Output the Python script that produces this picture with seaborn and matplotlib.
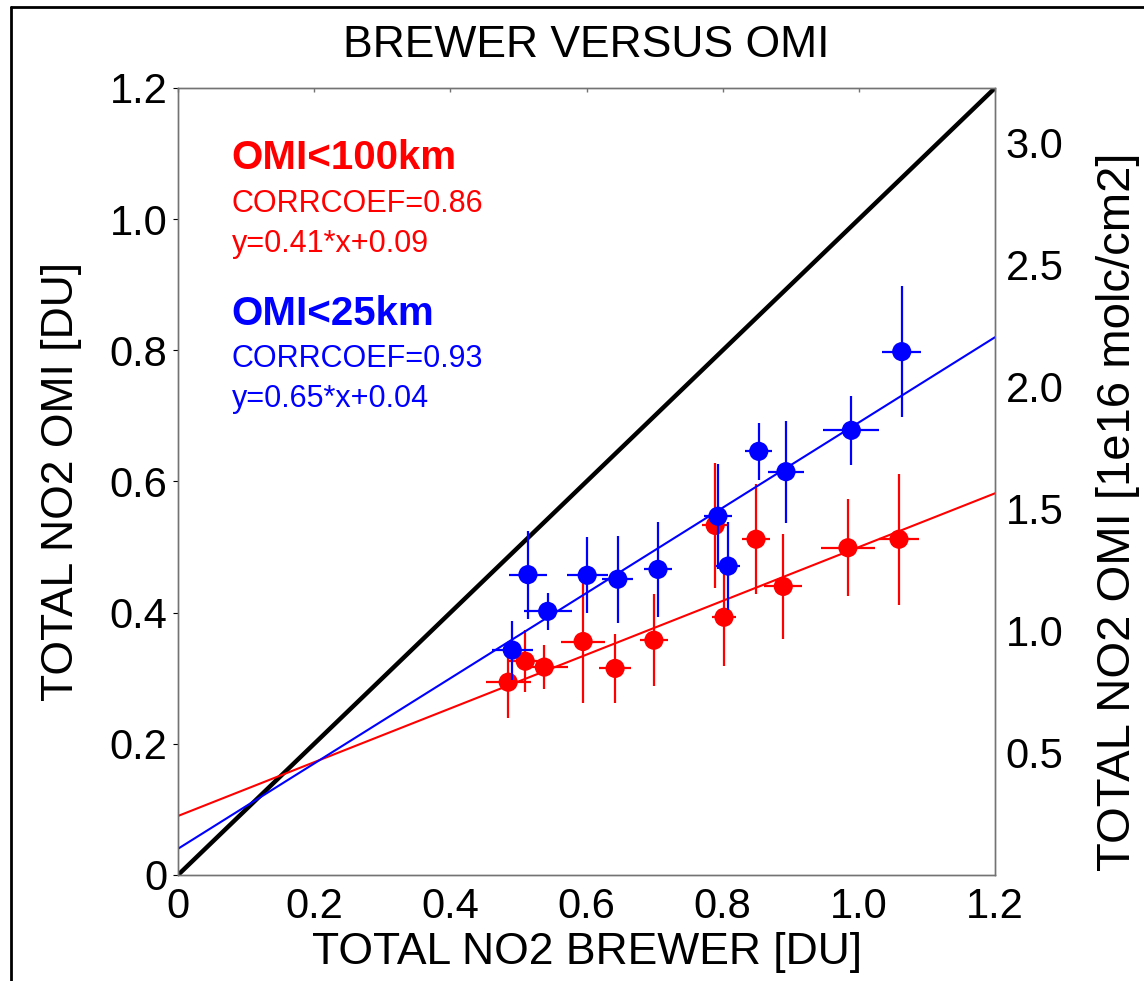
import numpy as np
import pandas as pd
import matplotlib
matplotlib.use("Agg")
import matplotlib.pyplot as plt
from matplotlib.lines import Line2D
import seaborn as sns

# ---------------- data ----------------
red_x = [0.485, 0.510, 0.538, 0.595, 0.642, 0.699, 0.789, 0.802, 0.849, 0.889, 0.984, 1.059]
red_y = [0.294, 0.326, 0.317, 0.356, 0.315, 0.358, 0.533, 0.393, 0.512, 0.440, 0.499, 0.512]
red_xerr = [0.033, 0.027, 0.035, 0.032, 0.023, 0.020, 0.020, 0.018, 0.021, 0.028, 0.040, 0.029]
red_yerr = [0.055, 0.047, 0.034, 0.094, 0.052, 0.070, 0.095, 0.075, 0.084, 0.080, 0.074, 0.100]

blue_x = [0.491, 0.514, 0.543, 0.601, 0.646, 0.705, 0.793, 0.808, 0.853, 0.893, 0.989, 1.063]
blue_y = [0.343, 0.458, 0.402, 0.457, 0.451, 0.466, 0.547, 0.471, 0.646, 0.615, 0.678, 0.798]
blue_xerr = [0.030, 0.028, 0.035, 0.030, 0.023, 0.021, 0.020, 0.018, 0.020, 0.027, 0.041, 0.029]
blue_yerr = [0.045, 0.067, 0.028, 0.058, 0.066, 0.072, 0.080, 0.067, 0.043, 0.078, 0.053, 0.100]

red_fit = [0.41, 0.09]    # slope, intercept
blue_fit = [0.65, 0.04]
ref_slope = 1.0

red_title = "OMI<100km"
red_lines = ["CORRCOEF=0.86", "y=0.41*x+0.09"]
blue_title = "OMI<25km"
blue_lines = ["CORRCOEF=0.93", "y=0.65*x+0.04"]

x_ticks = [0, 0.2, 0.4, 0.6, 0.8, 1.0, 1.2]
x_ticklabels = ["0", "0.2", "0.4", "0.6", "0.8", "1.0", "1.2"]
y_ticks = [0, 0.2, 0.4, 0.6, 0.8, 1.0, 1.2]
y_ticklabels = ["0", "0.2", "0.4", "0.6", "0.8", "1.0", "1.2"]
right_ticks = [0.5, 1.0, 1.5, 2.0, 2.5, 3.0]
right_ticklabels = ["0.5", "1.0", "1.5", "2.0", "2.5", "3.0"]
DU_TO_1E16 = 2.687

# ---------------- style ----------------
sns.set_style("white")
plt.rcParams["font.family"] = ["Liberation Sans", "DejaVu Sans"]
plt.rcParams["text.color"] = "black"
plt.rcParams["axes.labelcolor"] = "black"
plt.rcParams["xtick.color"] = "black"
plt.rcParams["ytick.color"] = "black"

fig = plt.figure(figsize=(11.44, 9.81), dpi=100)
ax = fig.add_axes([178 / 1144, 1 - 875 / 981, (995 - 178) / 1144, (875 - 88) / 981])

xmin, xmax = 0, 1.2
ax.set_xlim(xmin, xmax)
ax.set_ylim(0, 1.2)

xx = np.array([xmin, xmax])
# 1:1 reference line
sns.lineplot(x=xx, y=ref_slope * xx, color="black", lw=3.2, ax=ax, legend=False)

red_df = pd.DataFrame({"x": red_x, "y": red_y})
blue_df = pd.DataFrame({"x": blue_x, "y": blue_y})

ax.errorbar(red_x, red_y, xerr=red_xerr, yerr=red_yerr, fmt="none",
            ecolor="#ff0000", elinewidth=1.6, capsize=0, zorder=3)
sns.lineplot(x=xx, y=red_fit[0] * xx + red_fit[1], color="#ff0000", lw=1.5,
             ax=ax, legend=False, zorder=3)
sns.scatterplot(data=red_df, x="x", y="y", color="#ff0000", s=190,
                edgecolor="none", ax=ax, zorder=4)

ax.errorbar(blue_x, blue_y, xerr=blue_xerr, yerr=blue_yerr, fmt="none",
            ecolor="#0000ff", elinewidth=1.6, capsize=0, zorder=5)
sns.lineplot(x=xx, y=blue_fit[0] * xx + blue_fit[1], color="#0000ff", lw=1.5,
             ax=ax, legend=False, zorder=5)
sns.scatterplot(data=blue_df, x="x", y="y", color="#0000ff", s=190,
                edgecolor="none", ax=ax, zorder=6)

# ---------------- annotations ----------------
tx = 0.079
ax.text(tx, 1.077, red_title, color="#ff0000", fontsize=29, fontweight="bold", va="baseline")
ax.text(tx, 1.011, red_lines[0], color="#ff0000", fontsize=22, va="baseline")
ax.text(tx, 0.950, red_lines[1], color="#ff0000", fontsize=22, va="baseline")
ax.text(tx, 0.838, blue_title, color="#0000ff", fontsize=29, fontweight="bold", va="baseline")
ax.text(tx, 0.774, blue_lines[0], color="#0000ff", fontsize=22, va="baseline")
ax.text(tx, 0.713, blue_lines[1], color="#0000ff", fontsize=22, va="baseline")

# ---------------- axes ----------------
for s in ax.spines.values():
    s.set_color("0.45")
    s.set_linewidth(1.0)
    s.set_visible(True)

ax.set_xticks(x_ticks)
ax.set_xticklabels(x_ticklabels, fontsize=30)
ax.set_yticks(y_ticks)
ax.set_yticklabels(y_ticklabels, fontsize=30)
ax.tick_params(axis="x", bottom=False, top=True, labelbottom=True, labeltop=False,
               direction="in", length=3, width=1, color="0.45", pad=9)
ax.tick_params(axis="y", left=False, pad=4)
ax.set_xlabel("TOTAL NO2 BREWER [DU]", fontsize=32, labelpad=3)
ax.set_ylabel("TOTAL NO2 OMI [DU]", fontsize=32, labelpad=20)
ax.set_title("BREWER VERSUS OMI", fontsize=32, pad=22)

ax2 = ax.twinx()
ax2.set_ylim(0, 1.2 * DU_TO_1E16)
ax2.set_yticks(right_ticks)
ax2.set_yticklabels(right_ticklabels, fontsize=30)
ax2.tick_params(axis="y", right=False, pad=4)
ax2.set_ylabel("TOTAL NO2 OMI [1e16 molc/cm2]", fontsize=34)
ax2.yaxis.set_label_coords((1096 - 178) / (995 - 178), (875 - 512) / (875 - 88))
for s in ax2.spines.values():
    s.set_color("0.45")
    s.set_linewidth(1.0)

# figure border (left and top)
fig.add_artist(Line2D([11 / 1144, 11 / 1144], [0, 1 - 7 / 981], color="black", lw=2, transform=fig.transFigure))
fig.add_artist(Line2D([11 / 1144, 1], [1 - 7 / 981, 1 - 7 / 981], color="black", lw=2, transform=fig.transFigure))

fig.savefig("out.png", dpi=100)
